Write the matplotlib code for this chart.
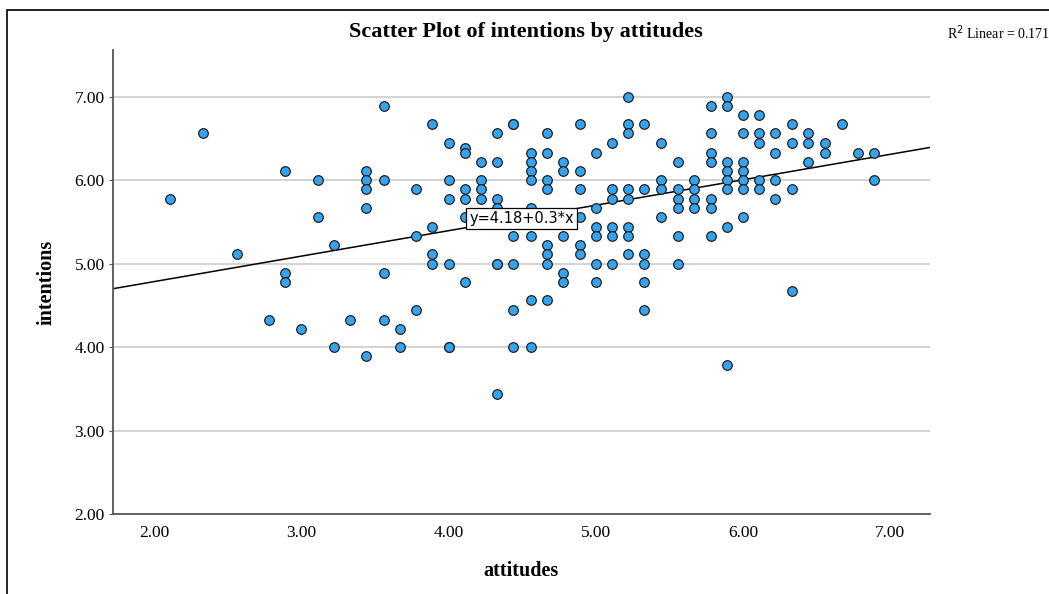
import matplotlib
matplotlib.use("Agg")
import matplotlib.pyplot as plt
from matplotlib.patches import Rectangle
import numpy as np

# attitudes value for each column of points, and the intentions values in it
attitude_cols = [2.11, 2.33, 2.56, 2.78, 2.89, 3.00, 3.11, 3.22, 3.33, 3.44,
                 3.56, 3.67, 3.78, 3.89, 4.00, 4.11, 4.22, 4.33, 4.44, 4.56,
                 4.67, 4.78, 4.89, 5.00, 5.11, 5.22, 5.33, 5.44, 5.56, 5.67,
                 5.78, 5.89, 6.00, 6.11, 6.22, 6.33, 6.44, 6.56, 6.67, 6.78,
                 6.89]
intention_cols = [
    [5.78],
    [6.56],
    [5.11],
    [4.33],
    [6.11, 4.89, 4.78],
    [4.22],
    [6.00, 5.56],
    [5.22, 4.00],
    [4.33],
    [6.11, 6.00, 5.89, 5.67, 3.89],
    [6.89, 6.00, 4.89, 4.33],
    [4.22, 4.00],
    [5.89, 5.33, 4.44],
    [6.67, 5.44, 5.11, 5.00],
    [6.44, 6.00, 5.78, 5.00, 4.00, 4.00],
    [6.39, 6.33, 5.89, 5.78, 5.56, 4.78],
    [6.22, 6.00, 5.89, 5.78],
    [6.56, 6.22, 5.78, 5.67, 5.00, 5.00, 3.44],
    [6.67, 6.67, 5.33, 5.00, 4.44, 4.00],
    [6.33, 6.22, 6.11, 6.00, 5.67, 5.33, 4.56, 4.00],
    [6.56, 6.33, 6.00, 5.89, 5.22, 5.11, 5.00, 4.56],
    [6.22, 6.11, 5.33, 4.89, 4.78],
    [6.67, 6.11, 5.89, 5.56, 5.22, 5.11],
    [6.33, 5.67, 5.44, 5.33, 5.00, 4.78],
    [6.44, 5.89, 5.78, 5.44, 5.33, 5.00],
    [7.00, 6.67, 6.56, 5.89, 5.78, 5.44, 5.33, 5.11],
    [6.67, 5.89, 5.11, 5.00, 4.78, 4.44],
    [6.44, 6.00, 5.89, 5.56],
    [6.22, 5.89, 5.78, 5.67, 5.33, 5.00],
    [6.00, 5.89, 5.78, 5.67],
    [6.89, 6.56, 6.33, 6.22, 5.78, 5.67, 5.33],
    [7.00, 6.89, 6.22, 6.11, 6.00, 5.89, 5.44, 3.78],
    [6.78, 6.56, 6.22, 6.11, 6.00, 5.89, 5.56],
    [6.78, 6.56, 6.44, 6.00, 5.89],
    [6.56, 6.33, 6.00, 5.78],
    [6.67, 6.44, 5.89, 4.67],
    [6.56, 6.44, 6.22],
    [6.44, 6.33],
    [6.67],
    [6.33],
    [6.33, 6.00],
]

fit_intercept = 4.175
fit_slope = 0.305
fit_label = "y=4.18+0.3*x"
r2_label = "R$^2$ Linear = 0.171"
x_ticks = [2, 3, 4, 5, 6, 7]
y_ticks = [2, 3, 4, 5, 6, 7]

x = []
y = []
for a, vals in zip(attitude_cols, intention_cols):
    for v in vals:
        x.append(a)
        y.append(v)

serif = "Liberation Serif"

fig = plt.figure(figsize=(10.49, 5.94), dpi=100)
ax = fig.add_axes([113/1049, 80/594, 817/1049, 464/594])

xlim = (1.72, 7.27)
ax.set_xlim(xlim)
ax.set_ylim(2.0, 7.56)

for t in y_ticks[1:]:
    ax.axhline(t, color="#c8c8c8", lw=1.1, zorder=0)

ax.scatter(x, y, s=48, color="#36a3ef", edgecolors="#222222", linewidths=0.9, zorder=3)

xs = np.array(xlim)
ax.plot(xs, fit_intercept + fit_slope * xs, color="black", lw=1.1, zorder=2)

ax.text(4.495, 5.54, fit_label, fontsize=10.5, ha="center", va="center", zorder=5,
        bbox=dict(boxstyle="square,pad=0.2", fc="white", ec="black", lw=0.9))

for s in ["top", "right"]:
    ax.spines[s].set_visible(False)
for s in ["left", "bottom"]:
    ax.spines[s].set_color("#555555")
    ax.spines[s].set_linewidth(1.3)

ax.set_xticks(x_ticks)
ax.set_yticks(y_ticks)
ax.set_xticklabels(["%.2f" % t for t in x_ticks], fontfamily=serif, fontsize=12.5)
ax.set_yticklabels(["%.2f" % t for t in y_ticks], fontfamily=serif, fontsize=12.5)
ax.tick_params(axis="x", length=0, pad=8)
ax.tick_params(axis="y", length=3, color="#555555", pad=3)

ax.set_xlabel("attitudes", fontfamily=serif, fontweight="bold", fontsize=14.5, labelpad=14)
ax.set_ylabel("intentions", fontfamily=serif, fontweight="bold", fontsize=14.5, labelpad=13)

fig.text(526/1049, 1 - 32/594, "Scatter Plot of intentions by attitudes", fontfamily=serif,
         fontweight="bold", fontsize=16, ha="center", va="center")
fig.text(947/1049, 1 - 33/594, r2_label, fontfamily=serif, fontsize=10, ha="left", va="center")

fig.patches.append(Rectangle((7/1049, -0.05), 1.1, 1 - 10/594 + 0.05, transform=fig.transFigure,
                             fill=False, ec="black", lw=1.2))

fig.savefig("out.png", dpi=100)
